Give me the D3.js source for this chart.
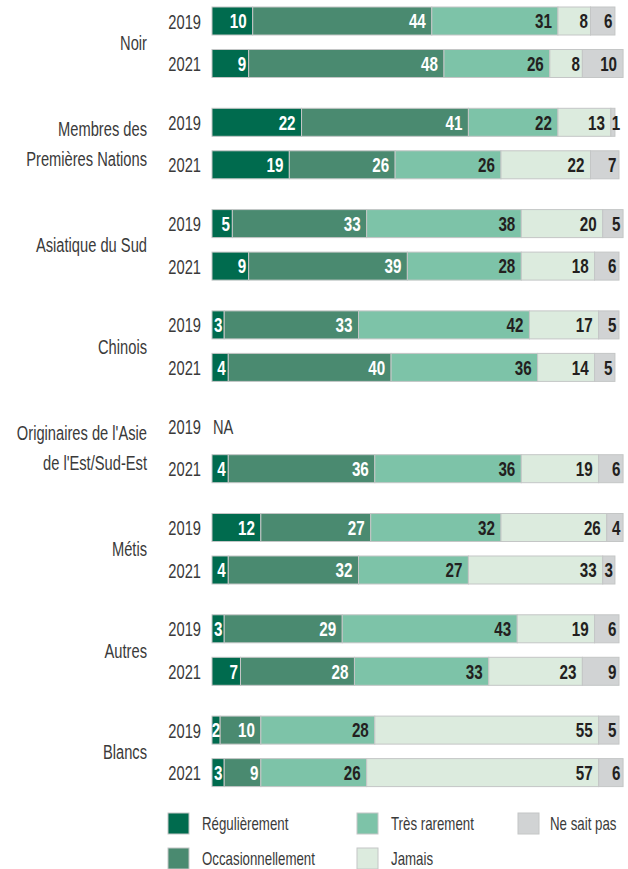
<!DOCTYPE html>
<html>
<head>
<meta charset="utf-8">
<script src="https://cdn.jsdelivr.net/npm/d3@7"></script>
<style>
  body { margin: 0; background: #fff; }
  text { font-family: "Liberation Sans", Arial, sans-serif; }
</style>
</head>
<body>
<script>
// Data
const categories = ["Noir", "Membres des|Premières Nations", "Asiatique du Sud", "Chinois",
  "Originaires de l'Asie|de l'Est/Sud-Est", "Métis", "Autres", "Blancs"];
const years = ["2019", "2021"];
const seriesNames = ["Régulièrement", "Occasionnellement", "Très rarement", "Jamais", "Ne sait pas"];

// one value per category x year, in order (null = NA)
const regulierement     = [10, 9, 22, 19, 5, 9, 3, 4, null, 4, 12, 4, 3, 7, 2, 3];
const occasionnellement = [44, 48, 41, 26, 33, 39, 33, 40, null, 36, 27, 32, 29, 28, 10, 9];
const tresRarement      = [31, 26, 22, 26, 38, 28, 42, 36, null, 36, 32, 27, 43, 33, 28, 26];
const jamais            = [8, 8, 13, 22, 20, 18, 17, 14, null, 19, 26, 33, 19, 23, 55, 57];
const neSaitPas         = [6, 10, 1, 7, 5, 6, 5, 5, null, 6, 4, 3, 6, 9, 5, 6];

const colors = ["#006b4e", "#4a8a70", "#7dc3a8", "#dcebde", "#d1d3d4"];
const textColors = ["#fff", "#fff", "#231f20", "#231f20", "#231f20"];

// Build rows
const rows = [];
categories.forEach((c, i) => {
  years.forEach((y, j) => {
    const k = i * 2 + j;
    rows.push({
      cat: c, year: y,
      na: regulierement[k] === null,
      s0: regulierement[k] || 0, s1: occasionnellement[k] || 0, s2: tresRarement[k] || 0,
      s3: jamais[k] || 0, s4: neSaitPas[k] || 0
    });
  });
});

const width = 628, height = 869;
const svg = d3.select("body").append("svg")
  .attr("width", width).attr("height", height);

// condensed look: squeeze text horizontally around its anchor point
const SQ = 0.7;
function place(sel, fx, fy, sx) {
  sel.attr("transform", (d, i) => "translate(" + fx(d, i) + "," + fy(d, i) + ") scale(" + (sx || SQ) + ",1)");
}

// Scales
const x = d3.scaleLinear().domain([0, 100]).range([212, 619]);
const yCat = d3.scaleBand().domain(categories).range([7, 7 + 8 * 101.3]);
const yYear = d3.scaleBand().domain(years).range([0, 70.5]).paddingInner(0.341);
const yRow = d => yCat(d.cat) + yYear(d.year);

const stack = d3.stack().keys(["s0", "s1", "s2", "s3", "s4"]);
const stacked = stack(rows.filter(d => !d.na));

// Bars
const layers = svg.selectAll("g.layer")
  .data(stacked)
  .enter().append("g")
    .attr("class", "layer")
    .attr("fill", (d, i) => colors[i]);

layers.selectAll("rect")
  .data(d => d)
  .enter().append("rect")
    .attr("x", d => x(d[0]))
    .attr("y", d => yRow(d.data))
    .attr("width", d => x(d[1]) - x(d[0]))
    .attr("height", yYear.bandwidth())
    .attr("stroke", "#c4c6c6")
    .attr("stroke-width", 1);

// Value labels
stacked.forEach((layer, i) => {
  const t = svg.append("g").selectAll("text")
    .data(layer)
    .enter().append("text")
      .attr("dy", "0.36em")
      .attr("font-size", 20)
      .attr("font-weight", "bold")
      .attr("fill", textColors[i])
      .attr("text-anchor", d => (x(d[1]) - x(d[0])) < 14 ? "middle" : "end")
      .text(d => d[1] - d[0]);
  place(t, d => {
    const w = x(d[1]) - x(d[0]);
    if (w < 14) return (x(d[0]) + x(d[1])) / 2 + (d[1] - d[0] === 1 ? 3 : 0);
    return x(d[1]) - (w > 40 ? 6 : 2.5);
  }, d => yRow(d.data) + yYear.bandwidth() / 2, 0.76);
});

// Year labels
const yl = svg.append("g").selectAll("text")
  .data(rows)
  .enter().append("text")
    .attr("dy", "0.36em")
    .attr("text-anchor", "end")
    .attr("font-size", 21)
    .attr("fill", "#3a3a3a")
    .text(d => d.year);
place(yl, () => 201, d => yRow(d) + yYear.bandwidth() / 2);

// NA
const na = svg.append("g").selectAll("text")
  .data(rows.filter(d => d.na))
  .enter().append("text")
    .attr("dy", "0.36em")
    .attr("font-size", 21)
    .attr("fill", "#3a3a3a")
    .text("NA");
place(na, () => 213, d => yRow(d) + yYear.bandwidth() / 2);

// Category labels
const catLines = [];
categories.forEach(c => {
  const lines = c.split("|");
  lines.forEach((l, i) => catLines.push({ text: l, y: yCat(c) + 35.25 + (i - (lines.length - 1) / 2) * 30 }));
});
const cl = svg.append("g").selectAll("text")
  .data(catLines)
  .enter().append("text")
    .attr("dy", "0.36em")
    .attr("text-anchor", "end")
    .attr("font-size", 21)
    .attr("fill", "#3a3a3a")
    .text(d => d.text);
place(cl, () => 147, d => d.y);

// Legend
const legendPos = [[168, 813], [168, 848], [357, 813], [357, 848], [518, 813]];
const legend = svg.append("g").selectAll("g")
  .data(seriesNames)
  .enter().append("g")
    .attr("transform", (d, i) => "translate(" + legendPos[i][0] + "," + legendPos[i][1] + ")");

legend.append("rect")
  .attr("width", 21).attr("height", 21)
  .attr("fill", (d, i) => colors[i])
  .attr("stroke", "#c4c6c6");

const lt = legend.append("text")
  .attr("dy", "0.36em")
  .attr("font-size", 19)
  .attr("fill", "#3a3a3a")
  .text(d => d);
place(lt, (d, i) => i === 4 ? 32 : 34, () => 10.5);
</script>
</body>
</html>
